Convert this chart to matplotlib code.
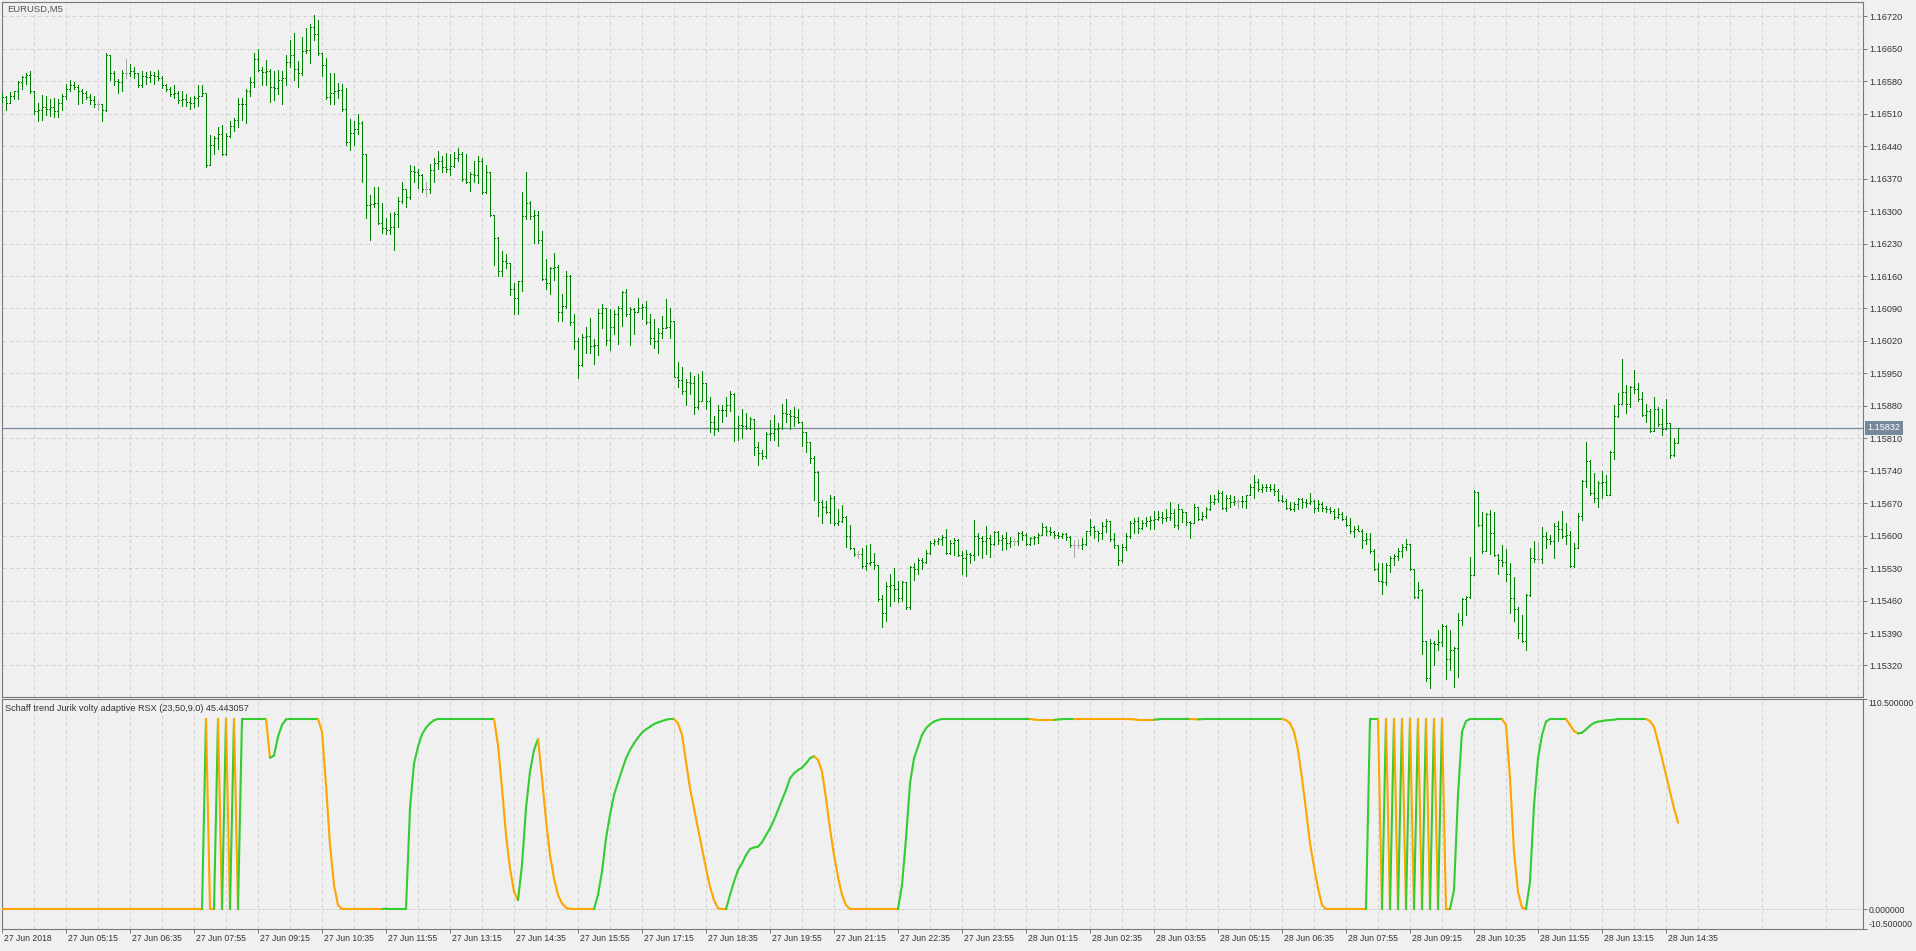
import matplotlib
matplotlib.use("Agg")
import matplotlib.pyplot as plt
from matplotlib.collections import LineCollection
import numpy as np

plt.rcParams['font.family'] = ['Liberation Sans', 'DejaVu Sans']

# EURUSD M5 bars, prices in points (1e-5)
open_first = 116540
high_pts = [
    116554, 116549, 116557, 116559, 116581, 116592, 116597, 116602, 116558, 116534,
    116551, 116549, 116542, 116544, 116542, 116552, 116575, 116583, 116578, 116573,
    116563, 116558, 116552, 116549, 116536, 116532, 116640, 116636, 116602, 116584,
    116604, 116628, 116618, 116611, 116597, 116602, 116600, 116602, 116599, 116604,
    116592, 116575, 116568, 116573, 116558, 116560, 116552, 116546, 116549, 116571,
    116573, 116554, 116465, 116462, 116481, 116486, 116469, 116494, 116501, 116544,
    116544, 116563, 116590, 116640, 116650, 116611, 116626, 116607, 116602, 116604,
    116602, 116637, 116669, 116684, 116623, 116676, 116695, 116703, 116722, 116713,
    116640, 116631, 116597, 116597, 116576, 116575, 116565, 116498, 116494, 116510,
    116494, 116424, 116334, 116351, 116351, 116318, 116286, 116295, 116298, 116330,
    116363, 116348, 116400, 116397, 116390, 116380, 116363, 116401, 116414, 116430,
    116419, 116426, 116424, 116428, 116436, 116428, 116424, 116385, 116407, 116419,
    116414, 116400, 116385, 116289, 116245, 116215, 116207, 116189, 116144, 116149,
    116342, 116385, 116322, 116303, 116301, 116257, 116197, 116180, 116210, 116183,
    116122, 116170, 116163, 116079, 116027, 116035, 116051, 116070, 116024, 116089,
    116099, 116091, 116089, 116086, 116096, 116128, 116132, 116093, 116091, 116112,
    116099, 116106, 116077, 116067, 116048, 116074, 116110, 116091, 116064, 115974,
    115964, 115937, 115953, 115945, 115949, 115956, 115929, 115900, 115858, 115881,
    115881, 115898, 115913, 115908, 115858, 115874, 115865, 115855, 115852, 115802,
    115785, 115823, 115850, 115860, 115843, 115884, 115894, 115872, 115877, 115874,
    115845, 115819, 115781, 115771, 115740, 115677, 115675, 115687, 115685, 115658,
    115667, 115643, 115624, 115573, 115566, 115573, 115579, 115582, 115563, 115537,
    115473, 115499, 115518, 115530, 115503, 115503, 115499, 115534, 115540, 115552,
    115552, 115569, 115588, 115592, 115595, 115602, 115614, 115590, 115595, 115592,
    115566, 115569, 115563, 115634, 115605, 115600, 115621, 115602, 115611, 115609,
    115602, 115608, 115598, 115595, 115608, 115609, 115605, 115598, 115600, 115605,
    115627, 115621, 115619, 115609, 115608, 115605, 115605, 115600, 115590, 115592,
    115595, 115611, 115636, 115621, 115611, 115629, 115636, 115631, 115605, 115579,
    115581, 115605, 115631, 115638, 115640, 115634, 115640, 115643, 115653, 115653,
    115650, 115658, 115672, 115658, 115669, 115656, 115646, 115631, 115669, 115658,
    115650, 115662, 115687, 115688, 115698, 115696, 115687, 115688, 115685, 115679,
    115685, 115688, 115711, 115730, 115723, 115711, 115711, 115711, 115711, 115701,
    115688, 115679, 115672, 115672, 115682, 115682, 115679, 115691, 115677, 115677,
    115672, 115665, 115662, 115658, 115660, 115650, 115643, 115638, 115621, 115624,
    115614, 115605, 115605, 115571, 115542, 115540, 115540, 115556, 115561, 115573,
    115581, 115592, 115582, 115528, 115499, 115486, 115373, 115378, 115373, 115397,
    115409, 115407, 115397, 115359, 115434, 115465, 115470, 115554, 115698, 115691,
    115650, 115648, 115656, 115650, 115561, 115579, 115571, 115540, 115511, 115446,
    115428, 115475, 115573, 115588, 115585, 115619, 115608, 115602, 115627, 115631,
    115653, 115627, 115609, 115585, 115648, 115720, 115802, 115764, 115735, 115717,
    115740, 115730, 115783, 115881, 115908, 115980, 115925, 115923, 115958, 115929,
    115910, 115884, 115874, 115900, 115877, 115874, 115894, 115841, 115810, 115833,
]
low_pts = [
    116536, 116517, 116536, 116542, 116542, 116563, 116575, 116554, 116510, 116494,
    116496, 116507, 116505, 116504, 116504, 116517, 116542, 116558, 116563, 116530,
    116534, 116542, 116530, 116525, 116517, 116494, 116515, 116583, 116573, 116554,
    116558, 116587, 116592, 116587, 116568, 116568, 116575, 116578, 116575, 116583,
    116565, 116558, 116549, 116544, 116534, 116527, 116527, 116520, 116525, 116527,
    116549, 116395, 116400, 116424, 116433, 116421, 116421, 116459, 116472, 116481,
    116496, 116491, 116549, 116568, 116602, 116573, 116571, 116536, 116539, 116552,
    116532, 116573, 116611, 116583, 116568, 116594, 116640, 116619, 116669, 116636,
    116592, 116542, 116530, 116532, 116544, 116515, 116443, 116431, 116443, 116467,
    116363, 116286, 116238, 116308, 116272, 116253, 116250, 116250, 116216, 116265,
    116318, 116308, 116327, 116363, 116349, 116342, 116332, 116340, 116363, 116390,
    116385, 116385, 116378, 116395, 116407, 116366, 116361, 116344, 116363, 116361,
    116337, 116340, 116289, 116183, 116161, 116161, 116178, 116118, 116077, 116077,
    116128, 116284, 116284, 116231, 116231, 116151, 116132, 116122, 116151, 116064,
    116064, 116091, 116055, 116003, 115939, 115966, 115995, 115993, 115971, 115990,
    116048, 116012, 116000, 116035, 116014, 116053, 116074, 116012, 116035, 116082,
    116067, 116057, 116014, 116004, 115995, 116026, 116048, 116026, 115942, 115920,
    115906, 115881, 115906, 115862, 115874, 115906, 115874, 115823, 115817, 115826,
    115845, 115858, 115868, 115804, 115807, 115810, 115829, 115829, 115773, 115752,
    115766, 115768, 115807, 115807, 115794, 115829, 115845, 115831, 115836, 115843,
    115794, 115781, 115756, 115677, 115643, 115627, 115648, 115627, 115624, 115624,
    115629, 115576, 115571, 115556, 115552, 115530, 115525, 115537, 115528, 115460,
    115402, 115415, 115448, 115460, 115457, 115460, 115441, 115441, 115505, 115518,
    115528, 115540, 115561, 115579, 115581, 115579, 115561, 115561, 115559, 115556,
    115518, 115513, 115540, 115547, 115559, 115552, 115561, 115554, 115579, 115582,
    115569, 115571, 115576, 115579, 115579, 115590, 115579, 115579, 115581, 115585,
    115608, 115602, 115602, 115595, 115595, 115595, 115590, 115576, 115554, 115573,
    115571, 115579, 115602, 115595, 115588, 115592, 115608, 115588, 115573, 115537,
    115544, 115569, 115595, 115605, 115605, 115614, 115621, 115614, 115614, 115634,
    115627, 115631, 115634, 115619, 115614, 115629, 115624, 115595, 115627, 115634,
    115634, 115638, 115656, 115669, 115672, 115658, 115653, 115662, 115667, 115660,
    115662, 115660, 115687, 115682, 115696, 115694, 115696, 115696, 115687, 115675,
    115672, 115658, 115656, 115653, 115658, 115660, 115662, 115669, 115650, 115653,
    115653, 115650, 115648, 115636, 115638, 115634, 115621, 115605, 115598, 115609,
    115573, 115582, 115563, 115525, 115502, 115475, 115494, 115521, 115537, 115547,
    115554, 115569, 115525, 115465, 115465, 115344, 115287, 115272, 115322, 115354,
    115361, 115290, 115311, 115274, 115296, 115407, 115428, 115465, 115515, 115621,
    115563, 115566, 115561, 115556, 115518, 115534, 115502, 115434, 115415, 115380,
    115370, 115354, 115470, 115544, 115547, 115540, 115573, 115582, 115552, 115588,
    115595, 115582, 115532, 115532, 115573, 115634, 115704, 115688, 115672, 115662,
    115682, 115687, 115687, 115766, 115855, 115884, 115865, 115877, 115908, 115891,
    115858, 115845, 115823, 115841, 115836, 115817, 115841, 115768, 115771, 115800,
]
close_pts = [
    116546, 116534, 116549, 116558, 116578, 116590, 116594, 116558, 116515, 116517,
    116525, 116520, 116525, 116515, 116534, 116549, 116563, 116573, 116568, 116558,
    116554, 116546, 116539, 116532, 116532, 116517, 116636, 116597, 116581, 116578,
    116597, 116597, 116602, 116597, 116571, 116592, 116590, 116594, 116592, 116587,
    116573, 116563, 116552, 116554, 116539, 116541, 116536, 116534, 116544, 116549,
    116554, 116400, 116443, 116457, 116467, 116424, 116462, 116484, 116496, 116532,
    116530, 116558, 116578, 116629, 116604, 116600, 116602, 116568, 116566, 116583,
    116587, 116621, 116636, 116607, 116597, 116645, 116648, 116698, 116681, 116640,
    116616, 116546, 116554, 116558, 116561, 116520, 116448, 116469, 116477, 116491,
    116424, 116313, 116315, 116318, 116274, 116263, 116260, 116265, 116294, 116322,
    116347, 116330, 116387, 116385, 116378, 116347, 116347, 116388, 116404, 116407,
    116395, 116390, 116398, 116414, 116424, 116369, 116363, 116380, 116378, 116409,
    116342, 116385, 116292, 116241, 116170, 116192, 116188, 116132, 116112, 116149,
    116289, 116318, 116289, 116292, 116238, 116154, 116144, 116178, 116180, 116083,
    116096, 116161, 116060, 116019, 115968, 116029, 116031, 116009, 116012, 116080,
    116091, 116022, 116051, 116077, 116091, 116125, 116077, 116089, 116083, 116091,
    116094, 116060, 116026, 116019, 116038, 116048, 116051, 116064, 115942, 115935,
    115913, 115932, 115929, 115877, 115891, 115929, 115891, 115845, 115829, 115870,
    115872, 115881, 115906, 115833, 115839, 115836, 115833, 115852, 115792, 115778,
    115771, 115819, 115821, 115829, 115833, 115865, 115862, 115858, 115855, 115845,
    115823, 115802, 115768, 115737, 115672, 115662, 115650, 115682, 115627, 115631,
    115640, 115600, 115573, 115561, 115561, 115534, 115540, 115544, 115537, 115463,
    115434, 115492, 115494, 115486, 115465, 115499, 115446, 115532, 115528, 115547,
    115544, 115563, 115585, 115588, 115592, 115598, 115563, 115585, 115590, 115559,
    115552, 115561, 115559, 115600, 115595, 115588, 115595, 115582, 115608, 115590,
    115595, 115585, 115588, 115588, 115605, 115602, 115582, 115595, 115598, 115602,
    115619, 115611, 115608, 115602, 115600, 115603, 115598, 115579, 115579, 115579,
    115583, 115609, 115619, 115611, 115605, 115621, 115631, 115592, 115579, 115547,
    115576, 115600, 115627, 115631, 115617, 115627, 115631, 115634, 115636, 115640,
    115638, 115640, 115648, 115624, 115658, 115650, 115629, 115627, 115662, 115636,
    115643, 115658, 115672, 115679, 115691, 115660, 115682, 115672, 115674, 115674,
    115675, 115687, 115704, 115715, 115701, 115704, 115706, 115701, 115696, 115677,
    115675, 115660, 115658, 115669, 115679, 115672, 115670, 115675, 115660, 115669,
    115660, 115658, 115653, 115640, 115646, 115636, 115624, 115609, 115614, 115611,
    115590, 115592, 115566, 115528, 115503, 115499, 115537, 115552, 115556, 115566,
    115576, 115582, 115528, 115467, 115482, 115373, 115292, 115369, 115366, 115370,
    115405, 115335, 115354, 115357, 115419, 115463, 115467, 115515, 115694, 115624,
    115566, 115646, 115605, 115559, 115547, 115544, 115518, 115465, 115441, 115390,
    115373, 115473, 115552, 115549, 115549, 115600, 115592, 115588, 115621, 115614,
    115600, 115602, 115534, 115573, 115643, 115717, 115762, 115691, 115682, 115713,
    115715, 115688, 115781, 115858, 115884, 115910, 115884, 115920, 115917, 115894,
    115860, 115868, 115826, 115874, 115841, 115831, 115843, 115773, 115800, 115832,
]

# Schaff trend Jurik volty adaptive RSX, one value per bar
stc = ([0.0] * 51
       + [100, 0, 0, 100, 0, 100, 0, 100, 0, 100]
       + [100] * 6
       + [79.6, 80.7, 90.7, 96.8, 99.8]
       + [100] * 8
       + [93.3, 65.3, 33.7, 12.6, 2.1]
       + [0] * 11
       + [0.2] * 6
       + [53, 76.6, 85.4, 91.9, 95.4, 97.7, 99.3]
       + [100] * 15
       + [86.3, 63.5, 39, 21.4, 9.1, 4.7, 23.2, 53, 72.3, 83.7, 89.5, 68.8, 46.8,
          28.4, 16.1, 7.4, 3, 0.7, 0.2]
       + [0] * 6
       + [7.4, 19.6, 37.2, 49.5, 60, 66.7, 73.1, 79.3, 83.7, 87.2, 90.2, 92.8, 94.5,
          95.9, 97.3, 98.2, 98.9, 99.6, 100, 100]
       + [97.7, 91.6, 77.5, 63.5, 53, 42.4, 31.9, 21.4, 11.7, 4.7, 0.4]
       + [0, 0]
       + [7.4, 14.4, 20.5, 24, 28.4, 31.6, 32.4, 32.8, 35.1, 38.9, 42.4, 46.8, 52.1,
          57.4, 62.6, 68.8, 71.4, 73.1, 74.4, 76.6, 79.3, 80.5]
       + [78.4, 72.3, 58.2, 42.4, 28.4, 17, 7.4, 2.1]
       + [0] * 13
       + [12.6, 37.2, 66.1, 79.3, 85.4, 91.6, 95.1, 97.2, 98.6, 99.4]
       + [100] * 23
       + [99.7] + [99.5] * 5 + [99.7, 99.9] + [100] * 3 + [99.9] * 14 + [99.8]
       + [99.6] * 5 + [99.8] + [100] * 8 + [99.9, 99.8, 99.9] + [100] * 20
       + [99.4, 97.7, 93.3, 83.7, 68.8, 52.1, 34.5, 22.3, 10.9, 2.1]
       + [0] * 11
       + [100, 100, 100, 0, 100, 0, 100, 0, 100, 0, 100, 0, 100, 0, 100, 0, 100, 0,
          100, 0, 0]
       + [10, 60, 93.3, 98.9]
       + [100] * 9
       + [96.8, 68.8, 30.2, 9.1, 0.7, 0]
       + [14.4, 54.7, 79.3, 91.6, 98.6]
       + [100] * 5
       + [96.8, 93.7, 92.4, 92.8, 94.5, 96.5, 97.9, 98.6, 98.9, 99.3, 99.4, 99.6]
       + [100] * 8
       + [98.9, 95.9, 88, 79.3, 70.5, 61.7, 53, 45.443057])

time_labels = ['27 Jun 2018', '27 Jun 05:15', '27 Jun 06:35', '27 Jun 07:55', '27 Jun 09:15',
               '27 Jun 10:35', '27 Jun 11:55', '27 Jun 13:15', '27 Jun 14:35', '27 Jun 15:55',
               '27 Jun 17:15', '27 Jun 18:35', '27 Jun 19:55', '27 Jun 21:15', '27 Jun 22:35',
               '27 Jun 23:55', '28 Jun 01:15', '28 Jun 02:35', '28 Jun 03:55', '28 Jun 05:15',
               '28 Jun 06:35', '28 Jun 07:55', '28 Jun 09:15', '28 Jun 10:35', '28 Jun 11:55',
               '28 Jun 13:15', '28 Jun 14:35']
price_ticks = [1.16720, 1.16650, 1.16580, 1.16510, 1.16440, 1.16370, 1.16300, 1.16230,
               1.16160, 1.16090, 1.16020, 1.15950, 1.15880, 1.15810, 1.15740, 1.15670,
               1.15600, 1.15530, 1.15460, 1.15390, 1.15320]
last_price = 1.15832

bg = '#F0F0F0'
frame = '#787878'
grid_c = '#D2D2D2'
txt_c = '#333333'

hi = np.array(high_pts) / 1e5
lo = np.array(low_pts) / 1e5
cl = np.array(close_pts) / 1e5
op = np.concatenate([[open_first / 1e5], cl[:-1]])
hi = np.maximum(hi, np.maximum(op, cl))
lo = np.minimum(lo, np.minimum(op, cl))
x = np.arange(len(cl))

W, H = 1916, 951
fig = plt.figure(figsize=(W / 100, H / 100), dpi=100, facecolor=bg)
ax = fig.add_axes([2 / W, 1 - 697 / H, 1861 / W, 695 / H], facecolor=bg)
ax2 = fig.add_axes([2 / W, 1 - 929 / H, 1861 / W, 230 / H], facecolor=bg)

# bars (doji drawn grey like MT4)
doji = np.abs(op - cl) < 5e-7
cols = np.where(doji, '#A8A8A8', '#008000')
ax.vlines(x, lo, hi, colors=cols, lw=0.7, antialiased=False, zorder=3)
ax.hlines(op, x - 0.3, x, colors=cols, lw=0.7, antialiased=False, zorder=3)
ax.hlines(cl, x, x + 0.3, colors=cols, lw=0.7, antialiased=False, zorder=3)
ax.axhline(last_price, color='#778899', lw=0.9, zorder=2)

ax.set_xlim(0, 1861 / 4)
ax.set_ylim(1.15252, 1.16751)
ax.set_yticks(price_ticks)
ax.set_yticklabels(['%.5f' % p for p in price_ticks])
ax.yaxis.tick_right()
ax.tick_params(axis='y', direction='out', length=3, width=0.7, pad=1.5,
               labelsize=6.6, colors=frame, labelcolor=txt_c)
ax.set_xticks(np.arange(8, 466, 8))
ax.tick_params(axis='x', length=0, labelbottom=False)
ax.grid(True, color=grid_c, lw=0.72, ls=(0, (4, 3)), zorder=0)

# indicator: green while rising, orange while falling
v = np.array(stc, dtype=float)
segs, seg_cols = [], []
up = False
for i in range(1, len(v)):
    if v[i] > v[i - 1]:
        up = True
    elif v[i] < v[i - 1]:
        up = False
    segs.append([(i - 1, v[i - 1]), (i, v[i])])
    seg_cols.append('#32CD32' if up else '#FFA500')
ax2.add_collection(LineCollection(segs, colors=seg_cols, linewidths=1.5,
                                  capstyle='round', zorder=3))
ax2.axhline(0, color='#C4C4C4', lw=0.72, ls=(0, (2, 2)), zorder=1)

ax2.set_xlim(0, 1861 / 4)
ax2.set_ylim(-10.5, 110.5)
ax2.set_xticks(np.arange(0, 420, 16))
ax2.set_xticks(np.arange(8, 466, 16), minor=True)
ax2.tick_params(axis='x', which='major', direction='out', length=3, width=0.7,
                colors=frame, labelbottom=False)
ax2.tick_params(axis='x', which='minor', length=0)
ax2.grid(True, axis='x', which='both', color=grid_c, lw=0.72, ls=(0, (4, 3)), zorder=0)
ax2.yaxis.tick_right()
ax2.set_yticks([-10.5, 0, 110.5])
ax2.set_yticklabels(['-10.500000', '0.000000', '110.500000'])
ax2.tick_params(axis='y', direction='out', length=3, width=0.7, pad=1.2,
                labelsize=6.2, colors=frame, labelcolor=txt_c)
ylabs = ax2.get_yticklabels()
ylabs[0].set_va('bottom')
ylabs[2].set_va('top')

for k, lab in enumerate(time_labels):
    ax2.text(k * 16 + 0.5, -0.02, lab, transform=ax2.get_xaxis_transform(),
             ha='left', va='top', fontsize=6.2, color=txt_c)

for a in (ax, ax2):
    for s in a.spines.values():
        s.set_color(frame)
        s.set_linewidth(0.8)

fig.text(7 / W, 1 - 9 / H, 'EURUSD,M5', ha='left', va='center',
         fontsize=6.8, color='#555555')
fig.text(5 / W, 1 - 708.5 / H,
         'Schaff trend Jurik volty adaptive RSX (23,50,9.0) 45.443057',
         ha='left', va='center', fontsize=6.6, color=txt_c)
fig.text(1867.5 / W, 1 - 428 / H, '%.5f' % last_price, ha='left', va='center',
         fontsize=6.6, color='white',
         bbox=dict(boxstyle='square,pad=0.25', fc='#778899', ec='none'))

fig.savefig('out.png', dpi=100, facecolor=bg)
